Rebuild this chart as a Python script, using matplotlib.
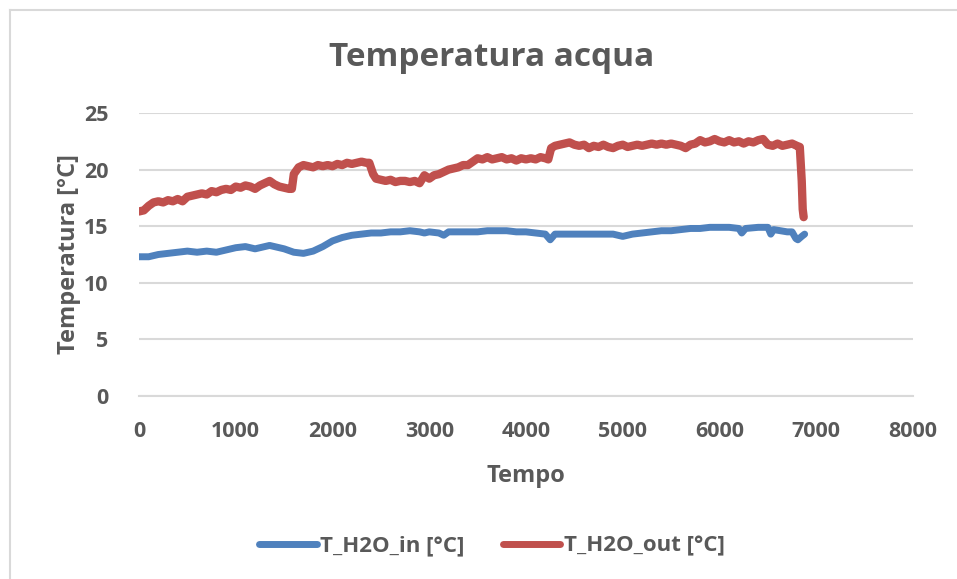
import matplotlib
matplotlib.use("Agg")
import matplotlib.pyplot as plt
from matplotlib.lines import Line2D

# Water temperature log: inlet and outlet of the circuit
t_out = [0, 50, 100, 150, 200, 250, 300, 350, 400, 450, 500, 550, 600, 650, 700,
         750, 800, 850, 900, 950, 1000, 1050, 1100, 1150, 1200, 1250, 1300, 1350,
         1400, 1450, 1500, 1550, 1580, 1600, 1650, 1700, 1750, 1800, 1850, 1900,
         1950, 2000, 2050, 2100, 2150, 2200, 2250, 2300, 2350, 2380, 2420, 2450,
         2500, 2550, 2600, 2650, 2700, 2750, 2800, 2850, 2900, 2950, 3000, 3050,
         3100, 3150, 3200, 3250, 3300, 3350, 3400, 3450, 3500, 3550, 3600, 3650,
         3700, 3750, 3800, 3850, 3900, 3950, 4000, 4050, 4100, 4150, 4200, 4230,
         4260, 4300, 4350, 4400, 4450, 4500, 4550, 4600, 4650, 4700, 4750, 4800,
         4850, 4900, 4950, 5000, 5050, 5100, 5150, 5200, 5250, 5300, 5350, 5400,
         5450, 5500, 5550, 5600, 5650, 5700, 5750, 5800, 5850, 5900, 5950, 6000,
         6050, 6100, 6150, 6200, 6250, 6300, 6350, 6400, 6450, 6500, 6550, 6600,
         6650, 6700, 6750, 6800, 6830, 6850, 6860, 6870]
T_out = [16.3, 16.4, 16.8, 17.1, 17.2, 17.1, 17.3, 17.2, 17.4, 17.2, 17.6, 17.7,
         17.8, 17.9, 17.8, 18.1, 18.0, 18.2, 18.3, 18.2, 18.5, 18.4, 18.6, 18.5,
         18.3, 18.6, 18.8, 19.0, 18.7, 18.5, 18.4, 18.3, 18.3, 19.6, 20.2, 20.4,
         20.3, 20.2, 20.4, 20.3, 20.4, 20.3, 20.5, 20.4, 20.6, 20.5, 20.6, 20.7,
         20.6, 20.6, 19.6, 19.2, 19.1, 19.0, 19.1, 18.9, 19.0, 19.0, 18.9, 19.0,
         18.8, 19.5, 19.2, 19.5, 19.6, 19.8, 20.0, 20.1, 20.2, 20.4, 20.4, 20.7,
         21.0, 20.9, 21.1, 20.9, 21.0, 21.1, 20.9, 21.0, 20.8, 21.0, 20.9, 21.0,
         20.9, 21.1, 21.0, 20.9, 21.9, 22.1, 22.2, 22.3, 22.4, 22.2, 22.1, 22.2,
         21.9, 22.1, 22.0, 22.2, 22.0, 21.9, 22.1, 22.2, 22.0, 22.1, 22.2, 22.1,
         22.2, 22.3, 22.2, 22.3, 22.2, 22.3, 22.2, 22.1, 21.9, 22.2, 22.3, 22.6,
         22.4, 22.5, 22.7, 22.5, 22.4, 22.6, 22.4, 22.5, 22.3, 22.5, 22.4, 22.6,
         22.7, 22.2, 22.1, 22.3, 22.1, 22.2, 22.3, 22.1, 22.0, 19.0, 16.5, 15.8]

t_in = [0, 100, 200, 300, 400, 500, 600, 700, 800, 900, 1000, 1100, 1200, 1300,
        1350, 1400, 1500, 1600, 1700, 1750, 1800, 1900, 2000, 2100, 2200, 2300,
        2400, 2500, 2600, 2700, 2800, 2900, 2950, 3000, 3100, 3150, 3200, 3300,
        3400, 3500, 3600, 3700, 3800, 3900, 4000, 4100, 4200, 4250, 4300, 4400,
        4500, 4600, 4700, 4800, 4900, 5000, 5100, 5200, 5300, 5400, 5500, 5600,
        5700, 5800, 5900, 6000, 6100, 6200, 6230, 6270, 6400, 6450, 6500, 6530,
        6560, 6700, 6750, 6790, 6810, 6850, 6880]
T_in = [12.3, 12.3, 12.5, 12.6, 12.7, 12.8, 12.7, 12.8, 12.7, 12.9, 13.1, 13.2,
        13.0, 13.2, 13.3, 13.2, 13.0, 12.7, 12.6, 12.7, 12.8, 13.2, 13.7, 14.0,
        14.2, 14.3, 14.4, 14.4, 14.5, 14.5, 14.6, 14.5, 14.4, 14.5, 14.4, 14.2,
        14.5, 14.5, 14.5, 14.5, 14.6, 14.6, 14.6, 14.5, 14.5, 14.4, 14.3, 13.8,
        14.3, 14.3, 14.3, 14.3, 14.3, 14.3, 14.3, 14.1, 14.3, 14.4, 14.5, 14.6,
        14.6, 14.7, 14.8, 14.8, 14.9, 14.9, 14.9, 14.8, 14.4, 14.8, 14.9, 14.9,
        14.9, 14.3, 14.7, 14.5, 14.5, 13.9, 13.8, 14.1, 14.3]

series_labels = ["T_H2O_in [°C]", "T_H2O_out [°C]"]
x_ticks = [0, 1000, 2000, 3000, 4000, 5000, 6000, 7000, 8000]
y_ticks = [0, 5, 10, 15, 20, 25]

BLUE = "#4F81BD"
RED = "#C0504D"
TXT = "#595959"
GRID = "#D9D9D9"

plt.rcParams["font.family"] = ["Open Sans", "DejaVu Sans"]

fig = plt.figure(figsize=(9.57, 5.79), dpi=100)
ax = fig.add_axes([139 / 957, 1 - 396 / 579, (913 - 139) / 957, (396 - 113) / 579])

ax.plot(t_in, T_in, color=BLUE, lw=5.0, solid_capstyle="round", solid_joinstyle="round", zorder=3)
ax.plot(t_out, T_out, color=RED, lw=6.0, solid_capstyle="round", solid_joinstyle="round", zorder=3)

ax.set_xlim(0, 8000)
ax.set_ylim(0, 25)
ax.set_xticks(x_ticks)
ax.set_yticks(y_ticks)
ax.set_xticklabels([str(v) for v in x_ticks])
ax.set_yticklabels([str(v) for v in y_ticks])
ax.tick_params(length=0, labelsize=15.5, labelcolor=TXT)
ax.tick_params(axis="x", pad=18)
ax.tick_params(axis="y", pad=22)
for lab in ax.get_xticklabels() + ax.get_yticklabels():
    lab.set_fontweight("bold")

ax.grid(axis="y", color=GRID, lw=1.5)
ax.set_axisbelow(True)
for s in ["top", "right", "left"]:
    ax.spines[s].set_visible(False)
ax.spines["bottom"].set_color(GRID)
ax.spines["bottom"].set_linewidth(1.5)

ax.set_xlabel("Tempo", fontsize=17, fontweight="bold", color=TXT, labelpad=16)
ax.set_ylabel("Temperatura [°C]", fontsize=17, fontweight="bold", color=TXT, labelpad=2)

fig.text(0.514, 1 - 57 / 579, "Temperatura acqua", ha="center", va="center",
         fontsize=24, fontweight="bold", color=TXT)

handles = [Line2D([], [], color=BLUE, lw=5, solid_capstyle="round"),
           Line2D([], [], color=RED, lw=5, solid_capstyle="round")]
leg = fig.legend(handles, series_labels, loc="center", bbox_to_anchor=(0.514, 1 - 546 / 579),
                 ncol=2, frameon=False, handlelength=2.6, handletextpad=0.15,
                 columnspacing=1.7, prop={"size": 16, "weight": "bold"})
for txt in leg.get_texts():
    txt.set_color(TXT)

# chart-area frame along the top and left
fig.add_artist(Line2D([10 / 957, 10 / 957], [0, 1 - 10 / 579], transform=fig.transFigure,
                      color=GRID, lw=1.5))
fig.add_artist(Line2D([10 / 957, 1], [1 - 10 / 579, 1 - 10 / 579], transform=fig.transFigure,
                      color=GRID, lw=1.5))

fig.savefig("out.png", dpi=100, facecolor="white")
